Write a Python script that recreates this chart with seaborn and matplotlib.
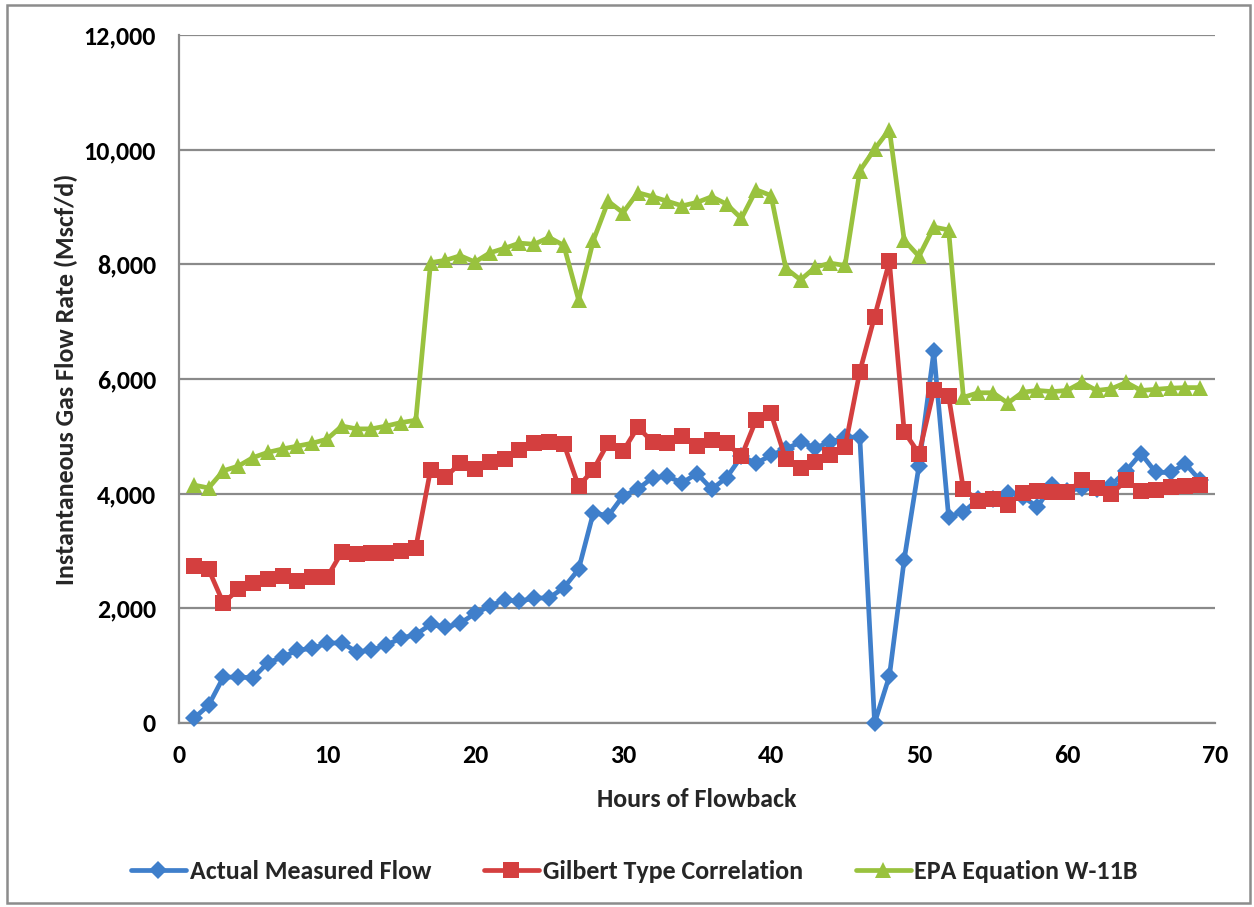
import matplotlib
matplotlib.use("Agg")
import matplotlib.pyplot as plt
import pandas as pd
import seaborn as sns
from matplotlib.ticker import FuncFormatter
from matplotlib.patches import Rectangle

# Hourly flowback readings (Mscf/d)
hours = list(range(1, 70))

actual_measured = [
    80, 310, 800, 800, 790, 1050, 1150, 1270, 1300, 1390,
    1400, 1240, 1270, 1360, 1480, 1540, 1720, 1670, 1740, 1910,
    2040, 2150, 2120, 2180, 2180, 2360, 2680, 3670, 3610, 3960,
    4080, 4280, 4300, 4190, 4350, 4080, 4280, 4650, 4530, 4670,
    4780, 4900, 4800, 4900, 4980, 4990, 0, 820, 2850, 4490,
    6480, 3600, 3680, 3900, 3900, 4020, 3950, 3770, 4150, 4050,
    4100, 4080, 4150, 4400, 4700, 4370, 4370, 4520, 4230,
]

gilbert_type = [
    2730, 2680, 2090, 2330, 2450, 2510, 2560, 2480, 2540, 2540,
    2980, 2950, 2970, 2970, 3000, 3060, 4420, 4290, 4530, 4430,
    4560, 4600, 4760, 4880, 4900, 4870, 4130, 4420, 4890, 4740,
    5160, 4900, 4890, 5000, 4840, 4930, 4880, 4650, 5290, 5400,
    4600, 4450, 4560, 4670, 4810, 6130, 7090, 8050, 5080, 4700,
    5800, 5700, 4080, 3880, 3900, 3800, 4020, 4040, 4030, 4030,
    4230, 4100, 4000, 4230, 4050, 4060, 4110, 4130, 4150,
]

epa_w11b = [
    4150, 4100, 4400, 4480, 4630, 4720, 4780, 4830, 4880, 4950,
    5180, 5130, 5130, 5180, 5240, 5280, 8030, 8070, 8150, 8040,
    8200, 8280, 8370, 8350, 8470, 8330, 7380, 8420, 9100, 8900,
    9250, 9180, 9100, 9020, 9080, 9180, 9050, 8800, 9300, 9200,
    7930, 7730, 7950, 8020, 7980, 9630, 10010, 10350, 8420, 8140,
    8650, 8600, 5680, 5760, 5760, 5580, 5770, 5800, 5780, 5800,
    5940, 5800, 5830, 5940, 5800, 5820, 5840, 5850, 5850,
]

series_names = ["Actual Measured Flow", "Gilbert Type Correlation", "EPA Equation W-11B"]
x_ticks = [0, 10, 20, 30, 40, 50, 60, 70]
y_ticks = [0, 2000, 4000, 6000, 8000, 10000, 12000]

df = pd.DataFrame({
    "Hours": hours,
    series_names[0]: actual_measured,
    series_names[1]: gilbert_type,
    series_names[2]: epa_w11b,
})

sns.set_theme(style="white")
plt.rcParams["font.family"] = ["Carlito", "DejaVu Sans"]
plt.rcParams["font.weight"] = "bold"

FS = 18.7
fig = plt.figure(figsize=(12.54, 9.07), dpi=100)
W, H = 1254, 907
left_px, right_px, top_px, bottom_px = 179, 1215, 35, 723
ax = fig.add_axes([left_px / W, 1 - bottom_px / H,
                   (right_px - left_px) / W, (bottom_px - top_px) / H])

grid_gray = "#8a8a8a"
styles = [
    ("#3F7FCB", "D", 9.5),
    ("#D43F3F", "s", 11),
    ("#99C23E", "^", 12),
]
for name, (color, marker, ms) in zip(series_names, styles):
    sns.lineplot(data=df, x="Hours", y=name, ax=ax, color=color,
                 marker=marker, markersize=ms, markeredgewidth=0,
                 linewidth=3.4, label=name, clip_on=False, zorder=3)

ax.set_xlim(0, 70)
ax.set_ylim(0, 12000)
ax.set_xticks(x_ticks)
ax.set_yticks(y_ticks)
ax.yaxis.set_major_formatter(FuncFormatter(lambda v, p: f"{int(v):,}"))

ax.grid(axis="y", color=grid_gray, linewidth=1.6, zorder=0)
ax.grid(axis="x", visible=False)
for side in ("top", "right"):
    ax.spines[side].set_visible(False)
for side in ("left", "bottom"):
    ax.spines[side].set_color(grid_gray)
    ax.spines[side].set_linewidth(1.6)

ax.tick_params(axis="both", which="major", direction="out", length=5,
               width=1.4, color=grid_gray, labelsize=FS, labelcolor="black")
ax.tick_params(axis="y", pad=11.5)
ax.tick_params(axis="x", pad=10)
for lbl in ax.get_xticklabels() + ax.get_yticklabels():
    lbl.set_fontweight("bold")

ax.set_xlabel("Hours of Flowback", fontsize=FS, fontweight="bold")
ax.set_ylabel("Instantaneous Gas Flow Rate (Mscf/d)", fontsize=FS,
              fontweight="bold")
ax.xaxis.set_label_coords(0.5, -0.0945)
ax.yaxis.set_label_coords(-0.0975, 0.5)

handles, labels = ax.get_legend_handles_labels()
ax.get_legend().remove()
fig.legend(handles, labels, loc="center", bbox_to_anchor=(0.506, 0.039),
           ncol=3, frameon=False, handlelength=2.1,
           handletextpad=0.15, columnspacing=2.05, numpoints=1,
           prop={"weight": "bold", "size": FS})

fig.patches.append(Rectangle((7 / W, 4 / H), 1243 / W, 898 / H,
                             transform=fig.transFigure, fill=False,
                             edgecolor="#8c8c8c", linewidth=1.8))

fig.savefig("out.png", dpi=100, facecolor="white")
